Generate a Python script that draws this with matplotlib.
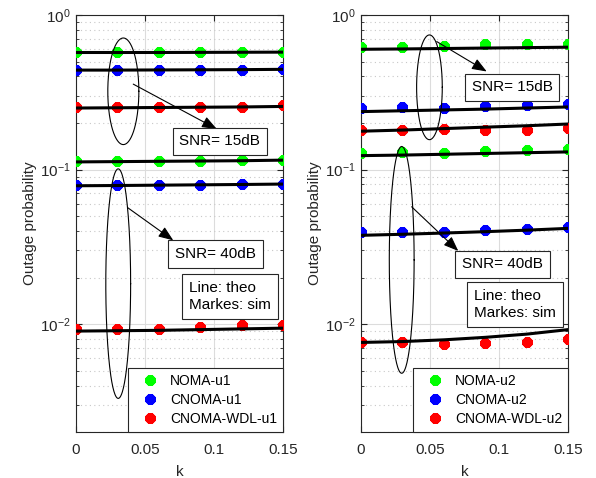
import numpy as np
import matplotlib
matplotlib.use("Agg")
import matplotlib.pyplot as plt
from matplotlib.ticker import LogLocator, FixedLocator, NullFormatter

plt.rcParams['font.family'] = ['Liberation Sans', 'DejaVu Sans']
plt.rcParams['mathtext.fontset'] = 'custom'
plt.rcParams['mathtext.rm'] = 'Liberation Sans'

k = [0, 0.03, 0.06, 0.09, 0.12, 0.15]

# Left panel (user 1): simulation markers
noma_u1_15_sim = [0.574, 0.574, 0.574, 0.574, 0.574, 0.576]
cnoma_u1_15_sim = [0.44, 0.44, 0.44, 0.44, 0.44, 0.45]
wdl_u1_15_sim = [0.255, 0.255, 0.255, 0.255, 0.255, 0.262]
noma_u1_40_sim = [0.113, 0.113, 0.113, 0.113, 0.116, 0.116]
cnoma_u1_40_sim = [0.079, 0.079, 0.079, 0.079, 0.080, 0.081]
wdl_u1_40_sim = [0.0093, 0.0093, 0.0093, 0.0095, 0.0098, 0.0099]
# Left panel theory lines
noma_u1_15_th = [0.572, 0.572, 0.572, 0.573, 0.574, 0.575]
cnoma_u1_15_th = [0.44, 0.44, 0.441, 0.442, 0.443, 0.445]
wdl_u1_15_th = [0.25, 0.251, 0.252, 0.253, 0.254, 0.256]
noma_u1_40_th = [0.112, 0.1125, 0.113, 0.1135, 0.114, 0.115]
cnoma_u1_40_th = [0.0785, 0.0788, 0.0792, 0.0796, 0.080, 0.0805]
wdl_u1_40_th = [0.0090, 0.00905, 0.0091, 0.0092, 0.0093, 0.0094]

# Right panel (user 2): simulation markers
noma_u2_15_sim = [0.625, 0.625, 0.63, 0.645, 0.645, 0.645]
cnoma_u2_15_sim = [0.25, 0.254, 0.25, 0.259, 0.263, 0.267]
wdl_u2_15_sim = [0.181, 0.181, 0.184, 0.181, 0.181, 0.186]
noma_u2_40_sim = [0.128, 0.13, 0.128, 0.131, 0.133, 0.136]
cnoma_u2_40_sim = [0.0394, 0.0394, 0.0394, 0.0405, 0.041, 0.0427]
wdl_u2_40_sim = [0.0076, 0.0076, 0.0074, 0.0075, 0.0077, 0.0080]
# Right panel theory lines
noma_u2_15_th = [0.60, 0.603, 0.607, 0.611, 0.615, 0.619]
cnoma_u2_15_th = [0.237, 0.240, 0.243, 0.246, 0.250, 0.254]
wdl_u2_15_th = [0.177, 0.180, 0.184, 0.188, 0.192, 0.197]
noma_u2_40_th = [0.123, 0.124, 0.1255, 0.127, 0.1285, 0.130]
cnoma_u2_40_th = [0.0375, 0.0381, 0.0388, 0.0396, 0.0405, 0.0416]
wdl_u2_40_th = [0.0076, 0.0077, 0.0079, 0.0082, 0.0086, 0.0092]

legend_u1 = ['NOMA-u1', 'CNOMA-u1', 'CNOMA-WDL-u1']
legend_u2 = ['NOMA-u2', 'CNOMA-u2', 'CNOMA-WDL-u2']
colors = ['#00ff00', '#0000ff', '#ff0000']
xticks = [0, 0.05, 0.1, 0.15]

fig = plt.figure(figsize=(5.96, 4.78), dpi=100)
axL = fig.add_axes([0.1275, 0.0962, 0.3473, 0.8724])
axR = fig.add_axes([0.6057, 0.0962, 0.3473, 0.8724])

star = (8, 2, 0)
edge = '#262626'


def ellipse(ax, cx, w, ytop, ybot):
    t = np.linspace(0, 2 * np.pi, 200)
    lc = (np.log10(ytop) + np.log10(ybot)) / 2
    lr = (np.log10(ytop) - np.log10(ybot)) / 2
    ax.plot(cx + w / 2 * np.cos(t), 10 ** (lc + lr * np.sin(t)), color='black', lw=0.8, zorder=6)


def panel(ax, sims, ths, labels, ell15, ell40, arr15, arr40, box15, box40, boxlt):
    handles = []
    for s, th, c, lab in zip(sims, ths, colors * 2, labels * 2):
        ax.plot(k, th, color='black', lw=2.2, zorder=4)
        h, = ax.plot(k, s, linestyle='none', marker=star, ms=7.5, mew=2.8, color=c, zorder=3, label=lab)
        handles.append(h)
    ax.set_yscale('log')
    ax.set_xlim(0, 0.15)
    ax.set_ylim(2e-3, 1)
    ax.xaxis.set_major_locator(FixedLocator(xticks))
    ax.set_xticklabels(['0', '0.05', '0.1', '0.15'])
    ax.yaxis.set_major_locator(LogLocator(base=10, numticks=10))
    ax.yaxis.set_minor_locator(LogLocator(base=10, subs=np.arange(2, 10), numticks=10))
    ax.yaxis.set_minor_formatter(NullFormatter())
    ax.grid(True, which='major', color='#dcdcdc', lw=0.8, linestyle='-')
    ax.grid(True, which='minor', axis='y', color='#c8c8c8', lw=0.8, linestyle=(0, (1, 3)))
    ax.set_axisbelow(True)
    ax.tick_params(which='both', direction='in', top=True, right=True, labelsize=11, colors=edge, labelcolor='#262626')
    ax.tick_params(which='major', length=4)
    ax.tick_params(which='minor', length=2)
    ax.tick_params(axis='x', pad=8)
    ax.tick_params(axis='y', pad=4)
    for sp in ax.spines.values():
        sp.set_color(edge)
        sp.set_linewidth(0.8)
    ax.set_xlabel('k', fontsize=11, color='#262626', labelpad=6)
    ax.set_ylabel('Outage probability', fontsize=11, color='#262626', labelpad=2)

    ellipse(ax, *ell15)
    ellipse(ax, *ell40)
    bb = dict(boxstyle='square,pad=0.45', fc='white', ec=edge, lw=0.8)
    ap = dict(arrowstyle='-|>,head_length=0.9,head_width=0.35', color='black', lw=0.8, shrinkA=0, shrinkB=0)
    ax.annotate('', xy=arr15[1], xytext=arr15[0], arrowprops=ap, zorder=7)
    ax.annotate('', xy=arr40[1], xytext=arr40[0], arrowprops=ap, zorder=7)
    ax.text(*box15, 'SNR= 15dB', ha='center', va='center', fontsize=11, bbox=bb, zorder=8)
    ax.text(*box40, 'SNR= 40dB', ha='center', va='center', fontsize=11, bbox=bb, zorder=8)
    ax.text(*boxlt, 'Line: theo\nMarkes: sim', ha='center', va='center', multialignment='left',
            fontsize=11, bbox=bb, zorder=8, linespacing=1.3)
    leg = ax.legend(handles=handles[:3], loc='lower right', fontsize=10, fancybox=False,
                    edgecolor=edge, framealpha=1, borderaxespad=0, handlelength=2.36,
                    handletextpad=0.25, labelspacing=0.38, borderpad=0.42)
    leg.get_frame().set_linewidth(0.8)
    leg.set_zorder(9)


panel(axL,
      [noma_u1_15_sim, cnoma_u1_15_sim, wdl_u1_15_sim, noma_u1_40_sim, cnoma_u1_40_sim, wdl_u1_40_sim],
      [noma_u1_15_th, cnoma_u1_15_th, wdl_u1_15_th, noma_u1_40_th, cnoma_u1_40_th, wdl_u1_40_th],
      legend_u1,
      (0.0343, 0.0225, 0.71, 0.145),
      (0.0306, 0.018, 0.101, 0.0033),
      ((0.0415, 0.357), (0.102, 0.183)),
      ((0.0375, 0.0566), (0.0705, 0.0348)),
      (0.1043, 0.152), (0.1012, 0.0283), (0.1117, 0.0150))

panel(axR,
      [noma_u2_15_sim, cnoma_u2_15_sim, wdl_u2_15_sim, noma_u2_40_sim, cnoma_u2_40_sim, wdl_u2_40_sim],
      [noma_u2_15_th, cnoma_u2_15_th, wdl_u2_15_th, noma_u2_40_th, cnoma_u2_40_th, wdl_u2_40_th],
      legend_u2,
      (0.0496, 0.0186, 0.743, 0.156),
      (0.0295, 0.018, 0.141, 0.0048),
      ((0.0549, 0.673), (0.0911, 0.431)),
      ((0.0367, 0.0574), (0.0705, 0.0297)),
      (0.1094, 0.34), (0.1027, 0.0243), (0.1114, 0.0134))

fig.savefig('out.png', dpi=100)
